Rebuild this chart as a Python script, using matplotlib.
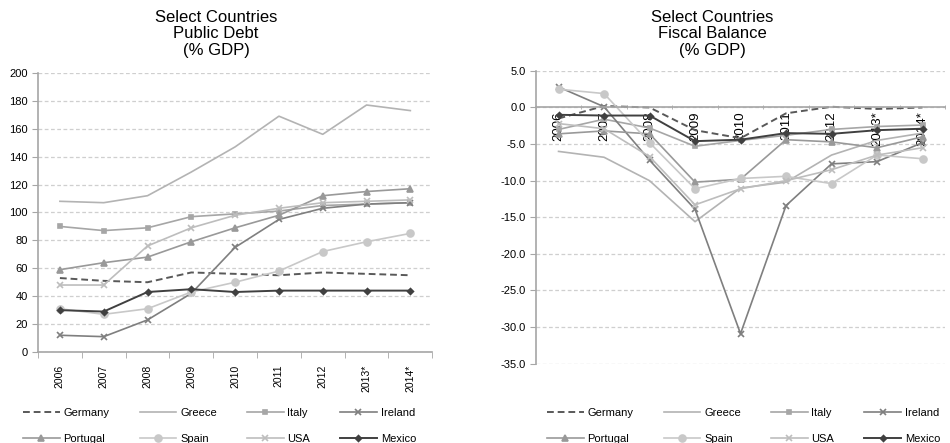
import numpy as np
import matplotlib.pyplot as plt

plt.rcParams['font.family'] = ['Liberation Sans', 'DejaVu Sans']

years = ['2006', '2007', '2008', '2009', '2010', '2011', '2012', '2013*', '2014*']
countries = ['Germany', 'Greece', 'Italy', 'Ireland', 'Portugal', 'Spain', 'USA', 'Mexico']

# Public debt (% GDP)
debt_germany = [53, 51, 50, 57, 56, 55, 57, 56, 55]
debt_greece = [108, 107, 112, 129, 147, 169, 156, 177, 173]
debt_italy = [90, 87, 89, 97, 99, 101, 105, 106, 107]
debt_ireland = [12, 11, 23, 42, 75, 95, 103, 106, 107]
debt_portugal = [59, 64, 68, 79, 89, 98, 112, 115, 117]
debt_spain = [31, 27, 31, 43, 50, 58, 72, 79, 85]
debt_usa = [48, 48, 76, 89, 98, 103, 107, 108, 109]
debt_mexico = [30, 29, 43, 45, 43, 44, 44, 44, 44]

# Fiscal balance (% GDP)
bal_germany = [-1.5, 0.2, 0.0, -3.1, -4.2, -0.8, 0.1, -0.2, 0.0]
bal_greece = [-6.0, -6.8, -10.0, -15.6, -11.0, -10.2, -6.5, -4.5, -3.5]
bal_italy = [-3.0, -1.6, -2.8, -5.3, -4.5, -3.8, -3.0, -2.6, -2.4]
bal_ireland = [2.8, 0.1, -7.2, -13.9, -30.9, -13.4, -7.7, -7.4, -4.8]
bal_portugal = [-3.6, -3.2, -3.6, -10.2, -9.8, -4.4, -4.7, -5.5, -4.0]
bal_spain = [2.5, 1.9, -4.8, -11.1, -9.7, -9.4, -10.4, -6.5, -7.0]
bal_usa = [-2.2, -2.9, -6.7, -13.3, -11.1, -10.0, -8.5, -6.5, -5.5]
bal_mexico = [-1.0, -1.1, -1.1, -4.6, -4.4, -3.5, -3.6, -3.1, -2.9]

debt = [debt_germany, debt_greece, debt_italy, debt_ireland,
        debt_portugal, debt_spain, debt_usa, debt_mexico]
balance = [bal_germany, bal_greece, bal_italy, bal_ireland,
           bal_portugal, bal_spain, bal_usa, bal_mexico]

styles = {
    'Germany': dict(color='#595959', ls=(0, (3.5, 2)), marker=None, lw=1.4),
    'Greece': dict(color='#b3b3b3', ls='-', marker=None, lw=1.2),
    'Italy': dict(color='#a6a6a6', ls='-', marker='s', ms=3, lw=1.2),
    'Ireland': dict(color='#7f7f7f', ls='-', marker='x', ms=5, lw=1.2),
    'Portugal': dict(color='#999999', ls='-', marker='^', ms=5, lw=1.2),
    'Spain': dict(color='#c8c8c8', ls='-', marker='o', ms=5, lw=1.2),
    'USA': dict(color='#bdbdbd', ls='-', marker='x', ms=5, lw=1.2),
    'Mexico': dict(color='#404040', ls='-', marker='D', ms=3, lw=1.4),
}

axis_color = '#a6a6a6'
grid_color = '#cfcfcf'

fig = plt.figure(figsize=(9.5, 4.43), dpi=100)
ax1 = fig.add_axes([0.04, 0.2054, 0.415, 0.63])
ax2 = fig.add_axes([0.564, 0.179, 0.431, 0.661])
# category axis of the balance chart crosses at zero (set before ticks, it resets them)
ax2.spines['bottom'].set_position(('data', 0))

x = np.arange(len(years))


def plot_series(ax, data):
    handles = []
    for name, vals in zip(countries, data):
        s = styles[name]
        h, = ax.plot(x, vals, color=s['color'], linestyle=s['ls'], lw=s['lw'],
                     marker=s['marker'], markersize=s.get('ms', 0),
                     markeredgewidth=1.2, label=name)
        handles.append(h)
    return handles


def style_axes(ax, xlabelsize):
    for side in ['top', 'right']:
        ax.spines[side].set_visible(False)
    for side in ['left', 'bottom']:
        ax.spines[side].set_color(axis_color)
        ax.spines[side].set_linewidth(1.2)
    ax.set_xlim(-0.5, len(years) - 0.5)
    ax.set_xticks(x)
    ax.set_xticks(np.arange(-0.5, len(years), 1.0), minor=True)
    ax.set_xticklabels(years, rotation=90, fontsize=xlabelsize)
    ax.tick_params(axis='x', which='major', length=0)
    ax.tick_params(axis='x', which='minor', length=4, color=axis_color)
    ax.tick_params(axis='y', length=4, color=axis_color, labelsize=8)
    ax.yaxis.grid(True, linestyle=(0, (3, 2)), color=grid_color, lw=0.9)
    ax.set_axisbelow(True)


# Left: Public debt
h1 = plot_series(ax1, debt)
style_axes(ax1, 7.5)
ax1.set_ylim(0, 200)
ax1.set_yticks(np.arange(0, 201, 20))
ax1.tick_params(axis='x', which='major', pad=9)

# Right: Fiscal balance
h2 = plot_series(ax2, balance)
style_axes(ax2, 9.5)
ax2.set_ylim(-35, 5)
yt = np.arange(-35, 5.1, 5)
ax2.set_yticks(yt)
ax2.set_yticklabels([f'{v:.1f}' for v in yt])
ax2.tick_params(axis='x', which='major', pad=3)
ax2.tick_params(axis='x', which='minor', length=3, direction='inout')

fig.text(0.2274, 1 - 10 / 443, 'Select Countries\nPublic Debt\n(% GDP)',
         ha='center', va='top', fontsize=12, linespacing=1.12)
fig.text(0.7495, 1 - 10 / 443, 'Select Countries\nFiscal Balance\n(% GDP)',
         ha='center', va='top', fontsize=12, linespacing=1.12)

order = [0, 4, 1, 5, 2, 6, 3, 7]
for hs, x0 in [(h1, 23 / 950), (h2, 547 / 950)]:
    fig.legend([hs[i] for i in order], [countries[i] for i in order],
               loc='upper left', bbox_to_anchor=(x0, 1 - 408 / 443), ncol=4,
               frameon=False, fontsize=8, handlelength=3.3, handletextpad=0.35,
               columnspacing=2.7, labelspacing=1.4, borderaxespad=0, borderpad=0)

fig.savefig('out.png', dpi=100)
